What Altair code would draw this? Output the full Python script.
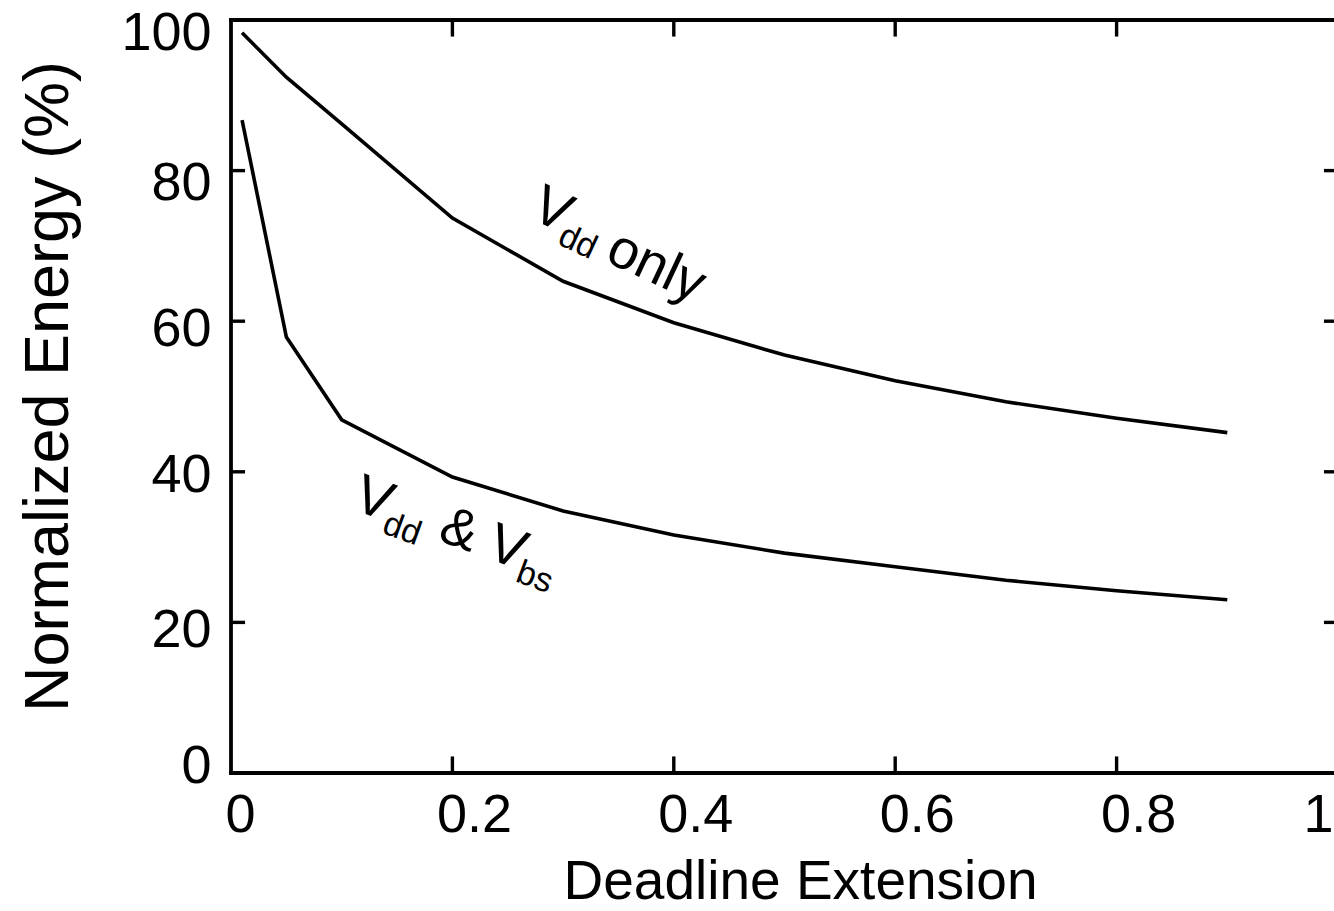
import altair as alt
import pandas as pd

# Deadline extension (fraction) and normalized energy (%) for the two schemes
ext = [0.01, 0.05, 0.1, 0.2, 0.3, 0.4, 0.5, 0.6, 0.7, 0.8, 0.9]
vdd_only = [98.3, 92.4, 86.2, 73.7, 65.3, 59.8, 55.5, 52.1, 49.3, 47.1, 45.2]
vdd_vbs = [86.7, 57.9, 46.9, 39.3, 34.8, 31.6, 29.2, 27.4, 25.6, 24.2, 23.0]

x_tick_values = [0, 0.2, 0.4, 0.6, 0.8, 1]
y_tick_values = [0, 20, 40, 60, 80, 100]
x_inner_ticks = [0.2, 0.4, 0.6, 0.8]
y_inner_ticks = [20, 40, 60, 80]

# In-plot curve labels: text pieces, anchor (data units), font size, rotation
ann_text = ["V", "dd", "only", "V", "dd", "&", "V", "bs"]
ann_x = [0.2689, 0.2938, 0.3365, 0.1085, 0.1353, 0.1857, 0.2290, 0.2558]
ann_y = [73.78, 70.32, 68.07, 35.09, 31.95, 30.96, 28.65, 25.51]
ann_size = [55, 34, 55, 55, 34, 55, 55, 34]
ann_angle = [25, 25, 25, 20, 20, 20, 20, 20]

FONT = "Liberation Sans"
LW = 3.6

curves = pd.DataFrame(
    {"x": ext * 2,
     "y": vdd_only + vdd_vbs,
     "series": ["Vdd only"] * len(ext) + ["Vdd & Vbs"] * len(ext)}
)
ann = pd.DataFrame({"x": ann_x, "y": ann_y, "text": ann_text,
                    "size": ann_size, "angle": ann_angle})

tick_len_y = 2.2      # inward tick length on the x axes (data units)
tick_len_x = 0.0127   # inward tick length on the y axes (data units)
xt = pd.DataFrame(
    {"x": x_inner_ticks * 2,
     "y": [0] * 4 + [100] * 4,
     "y2": [tick_len_y] * 4 + [100 - tick_len_y] * 4}
)
yt = pd.DataFrame(
    {"y": y_inner_ticks * 2,
     "x": [0] * 4 + [1] * 4,
     "x2": [tick_len_x] * 4 + [1 - tick_len_x] * 4}
)
hframe = pd.DataFrame({"y": [0, 100]})
vframe = pd.DataFrame({"x": [0]})

x_axis = alt.Axis(
    title="Deadline Extension",
    values=x_tick_values,
    labelExpr="datum.value == 0 ? '0' : datum.value == 1 ? '1' : format(datum.value, '.1f')",
    domain=False, ticks=False, grid=False,
    labelFont=FONT, labelFontSize=54, labelColor="black",
    labelAlign="left", labelBaseline="top", labelPadding=15,
    labelFlush=False, labelOverlap=False,
    labelOffset={
        "condition": [
            {"test": "datum.value == 0", "value": -6},
            {"test": "datum.value == 1", "value": -35},
        ],
        "value": -16,
    },
    titleFont=FONT, titleFontSize=55, titleFontWeight="normal", titleColor="black",
    titleAlign="center", titleBaseline="alphabetic", titleX=569, titleY=125,
)
y_axis = alt.Axis(
    title="Normalized Energy (%)",
    values=y_tick_values,
    domain=False, ticks=False, grid=False,
    labelFont=FONT, labelFontSize=54, labelColor="black",
    labelAlign="right", labelBaseline="middle", labelPadding=20,
    labelFlush=False, labelOverlap=False,
    labelOffset={
        "condition": [
            {"test": "datum.value == 100", "value": 13},
            {"test": "datum.value == 80", "value": 13},
            {"test": "datum.value == 60", "value": 8},
            {"test": "datum.value == 40", "value": 4},
            {"test": "datum.value == 20", "value": 8},
            {"test": "datum.value == 0", "value": -7},
        ],
        "value": 0,
    },
    titleFont=FONT, titleFontSize=63, titleFontWeight="normal", titleColor="black",
    titleAngle=270, titleAlign="center", titleBaseline="alphabetic",
    titleX=-164, titleY=366,
)

x_scale = alt.Scale(domain=[0, 1], range=[0, 1107], nice=False, zero=False)
y_scale = alt.Scale(domain=[0, 100], nice=False, zero=False)

X = alt.X("x:Q", scale=x_scale, axis=x_axis)
Y = alt.Y("y:Q", scale=y_scale, axis=y_axis)

lines = alt.Chart(curves).mark_line(color="black", strokeWidth=LW).encode(
    x=X, y=Y, detail="series:N"
)

top_bottom = alt.Chart(hframe).mark_rule(color="black", strokeWidth=3.8, strokeCap="square").encode(y=Y)
left = alt.Chart(vframe).mark_rule(color="black", strokeWidth=3.8, strokeCap="square").encode(x=X)

x_ticks = alt.Chart(xt).mark_rule(color="black", strokeWidth=3.4).encode(x=X, y=Y, y2="y2:Q")
y_ticks = alt.Chart(yt).mark_rule(color="black", strokeWidth=3.4).encode(x=X, x2="x2:Q", y=Y)

labels = alt.Chart(ann).mark_text(
    align="left", baseline="alphabetic", font=FONT, color="black"
).encode(
    x=X, y=Y, text="text:N",
    size=alt.Size("size:Q", scale=None, legend=None),
    angle=alt.Angle("angle:Q", scale=None),
)

chart = (
    alt.layer(lines, top_bottom, left, x_ticks, y_ticks, labels)
    .properties(
        width=1103, height=753,
        autosize=alt.AutoSizeParams(type="none"),
        padding={"left": 231, "top": 20, "right": 0, "bottom": 138},
        background="white",
    )
    .configure_view(stroke=None)
)

chart.save("out.html", embed_options={"renderer": "svg", "actions": False})
